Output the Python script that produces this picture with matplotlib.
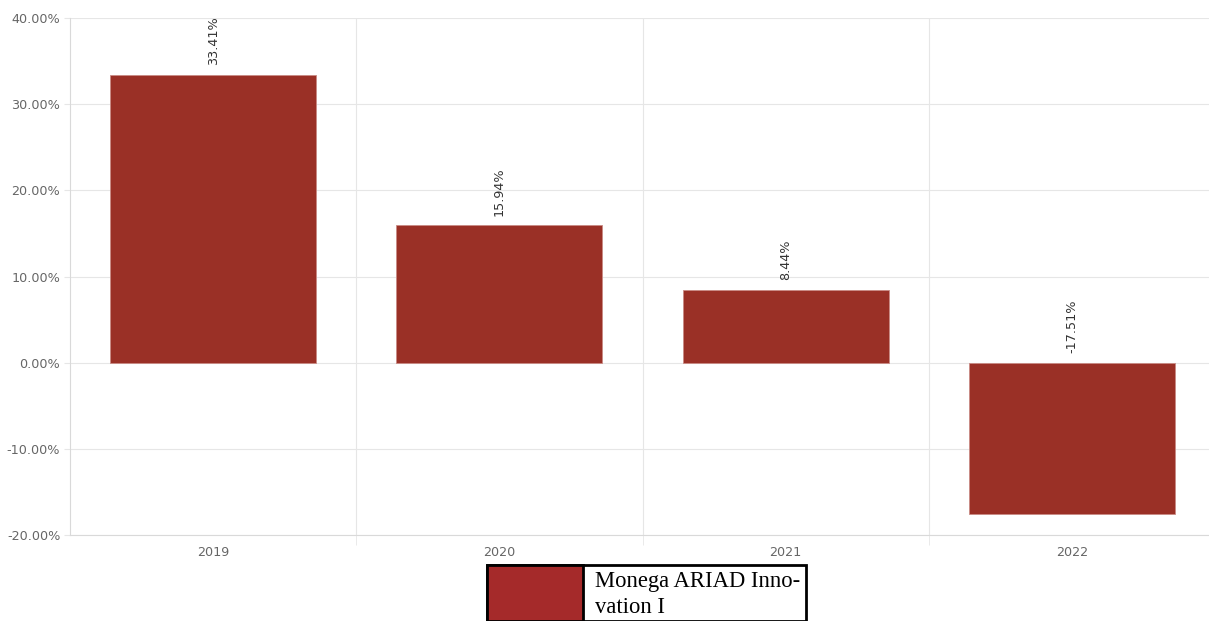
import numpy as np
import matplotlib.pyplot as plt
from matplotlib.patches import Rectangle

years = ['2019', '2020', '2021', '2022']
returns = [33.41, 15.94, 8.44, -17.51]
series_name = 'Monega ARIAD Innovation I'

W, H = 1209, 621
fig = plt.figure(figsize=(W / 100, H / 100), dpi=100)
# plot area runs a little past the right edge of the image
ax = fig.add_axes([70 / W, 1 - 535 / H, 1145 / W, (535 - 18) / H])

x = np.arange(len(years))
ax.bar(x, returns, width=0.72, color='#9a3026', edgecolor='#c98a84', linewidth=0.6, zorder=3)

for xi, v in zip(x, returns):
    ax.annotate(f'{v:.2f}%', (xi, max(v, 0)), xytext=(0, 7), textcoords='offset points',
                rotation=90, ha='center', va='bottom', fontsize=9.2, color='#333333')

ax.set_xlim(-0.5, len(years) - 0.5)
ax.set_ylim(-20, 40)
ax.set_yticks(np.arange(-20, 41, 10))
ax.set_yticklabels([f'{t:.2f}%' for t in np.arange(-20, 41, 10)])
ax.set_xticks(x)
ax.set_xticklabels(years)
ax.set_xticks(np.arange(0.5, len(years) - 1, 1), minor=True)

ax.tick_params(axis='both', which='major', length=0, labelsize=9.2, labelcolor='#666666')
ax.tick_params(axis='y', which='major', length=4, color='#e6e6e6', pad=3)
ax.tick_params(axis='x', which='minor', length=7, color='#e6e6e6')
ax.tick_params(axis='x', which='major', pad=8)

ax.grid(axis='y', which='major', color='#e6e6e6', linewidth=0.8, zorder=0)
ax.grid(axis='x', which='minor', color='#e6e6e6', linewidth=0.8, zorder=0)
for side in ['top', 'right']:
    ax.spines[side].set_visible(False)
for side in ['left', 'bottom']:
    ax.spines[side].set_color('#d9d9d9')

# legend box at bottom (cut off by figure edge)
lx0, lx1, ly0 = 487, 806, 565
fig.add_artist(Rectangle((lx0 / W, 0), (lx1 - lx0) / W, 1 - ly0 / H, transform=fig.transFigure,
                         facecolor='white', edgecolor='black', linewidth=2, clip_on=False))
fig.add_artist(Rectangle((lx0 / W, 0), (583 - lx0) / W, 1 - ly0 / H, transform=fig.transFigure,
                         facecolor='#a52a2a', edgecolor='black', linewidth=2, clip_on=False))
fig.text(595 / W, 1 - 571 / H, 'Monega ARIAD Inno-\nvation I', family='Liberation Serif',
         fontsize=16.3, va='top', ha='left', color='black', linespacing=1.32)

fig.savefig('out.png', dpi=100)
